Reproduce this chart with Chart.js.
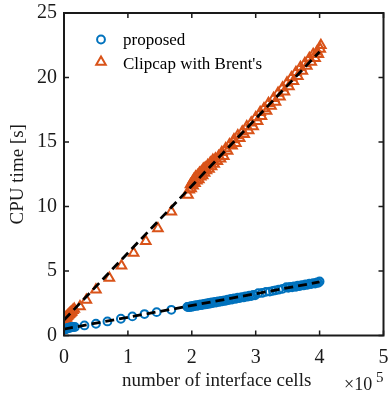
<!DOCTYPE html>
<html>
<head>
<meta charset="UTF-8">
<title>CPU time vs interface cells</title>
<script src="https://cdn.jsdelivr.net/npm/chart.js@4/dist/chart.umd.min.js"></script>
<style>
html, body { margin:0; padding:0; background:#fff; }
canvas { display:block; }
</style>
</head>
<body>
<canvas id="canvas" width="391" height="396" style="width:391px;height:396px;"></canvas>
<script>
// x values are in units of 1e5 interface cells, y is CPU time in seconds
var propX = [0.005,0.01,0.015,0.02,0.03,0.035,0.04,0.05,0.06,0.07,0.08,0.09,0.10,0.12,0.14,
             0.17,0.32,0.50,0.68,0.89,1.07,1.26,1.45,1.68,1.93,
             1.94,1.96,1.97,1.99,2.00,2.02,2.03,2.05,2.07,2.08,2.10,2.12,2.14,2.15,2.17,2.19,
             2.21,2.23,2.25,2.27,2.29,2.31,2.33,2.36,2.38,2.41,2.43,2.46,2.48,2.51,2.53,2.56,
             2.58,2.61,2.63,2.66,2.69,2.72,2.75,2.78,2.81,2.84,2.87,2.90,2.93,2.96,2.99,3.04,
             3.10,3.16,3.22,3.27,3.31,3.36,3.42,3.48,3.51,3.54,3.57,3.60,3.63,3.66,3.69,3.72,
             3.75,3.78,3.81,3.84,3.87,3.90,3.93,3.96,3.98,4.00];
var propY = [0.46,0.50,0.48,0.52,0.53,0.51,0.55,0.56,0.57,0.59,0.60,0.61,0.62,0.64,0.66,
             0.66,0.78,0.91,1.09,1.30,1.48,1.66,1.81,1.99,2.22,
             2.21,2.24,2.20,2.27,2.23,2.30,2.26,2.33,2.29,2.36,2.32,2.39,2.35,2.42,2.38,2.45,
             2.41,2.48,2.44,2.52,2.48,2.56,2.52,2.60,2.56,2.64,2.60,2.69,2.65,2.73,2.69,2.78,
             2.74,2.83,2.79,2.88,2.85,2.93,2.90,2.98,2.95,3.04,3.01,3.09,3.06,3.14,3.12,3.28,
             3.30,3.38,3.40,3.46,3.50,3.55,3.62,3.74,3.70,3.77,3.74,3.81,3.78,3.86,3.83,3.91,
             3.88,3.96,3.93,4.01,3.98,4.06,4.03,4.12,4.09,4.19];

var clipX = [0.005,0.01,0.015,0.02,0.03,0.035,0.04,0.05,0.06,0.07,0.08,0.09,0.10,0.11,0.12,0.14,0.16,
             0.25,0.35,0.50,0.71,0.90,1.09,1.28,1.47,1.68,1.94,
             1.96,1.98,1.99,2.01,2.02,2.03,2.05,2.06,2.08,2.09,2.11,2.12,2.14,2.15,2.17,2.18,
             2.20,2.21,2.23,2.25,2.27,2.29,2.31,2.33,2.35,2.37,2.40,2.42,2.45,2.47,2.50,2.53,
             2.56,2.59,2.63,2.66,2.69,2.72,2.75,2.79,2.82,2.86,2.89,2.93,2.96,3.00,3.03,3.07,
             3.09,3.13,3.17,3.20,3.24,3.28,3.31,3.35,3.38,3.42,3.45,3.49,3.52,3.56,3.59,3.63,
             3.66,3.70,3.73,3.77,3.80,3.84,3.87,3.90,3.93,3.96,3.98,4.01,4.02];
var clipY = [1.20,1.30,1.25,1.35,1.40,1.35,1.45,1.50,1.55,1.60,1.65,1.70,1.75,1.80,1.85,1.95,2.05,
             2.25,2.75,3.55,4.45,5.40,6.40,7.30,8.30,9.60,10.90,
             11.3,11.7,11.4,11.9,11.6,12.1,11.8,12.3,12.0,12.4,12.1,12.6,12.3,12.7,12.4,12.9,
             12.6,13.0,12.8,13.2,12.9,13.4,13.1,13.6,13.3,13.7,13.5,13.9,13.7,14.2,13.9,14.5,
             14.3,14.8,14.7,15.2,14.9,15.5,15.3,15.8,15.6,16.2,15.9,16.5,16.2,16.9,16.6,17.3,
             17.0,17.6,17.4,18.0,17.8,18.4,18.1,18.8,18.5,19.2,18.9,19.6,19.3,20.0,19.7,20.4,
             20.1,20.8,20.5,21.1,20.9,21.5,21.2,21.8,21.5,22.0,21.8,22.2,22.5];

// dashed fit lines (end points)
var fitX = [0, 4];
var propFitY = [0.5, 4.15];
var clipFitY = [1.2, 22.0];

var xTicks = [0, 1, 2, 3, 4, 5];
var yTicks = [0, 5, 10, 15, 20, 25];

var BLUE = '#0072BD';
var ORANGE = '#D95319';
var AXIS = '#1a1a1a';
var SERIF = '"Liberation Serif", "Times New Roman", serif';

function pts(xs, ys) {
    var out = [];
    for (var i = 0; i < xs.length; i++) out.push({x: xs[i], y: ys[i]});
    return out;
}

// box, inward ticks, legend and the x10^5 multiplier
var matlabAxes = {
    id: 'matlabAxes',
    afterDraw: function(chart) {
        var ctx = chart.ctx, a = chart.chartArea;
        var xs = chart.scales.x, ys = chart.scales.y;
        var tl = 5;
        ctx.save();
        ctx.strokeStyle = AXIS;
        ctx.lineWidth = 2;
        ctx.strokeRect(a.left, a.top, a.right - a.left, a.bottom - a.top);
        ctx.lineWidth = 1.5;
        ctx.beginPath();
        xTicks.forEach(function(v) {
            var px = xs.getPixelForValue(v);
            ctx.moveTo(px, a.bottom); ctx.lineTo(px, a.bottom - tl);
            ctx.moveTo(px, a.top); ctx.lineTo(px, a.top + tl);
        });
        yTicks.forEach(function(v) {
            var py = ys.getPixelForValue(v);
            ctx.moveTo(a.left, py); ctx.lineTo(a.left + tl, py);
            ctx.moveTo(a.right, py); ctx.lineTo(a.right - tl, py);
        });
        ctx.stroke();

        // legend
        var items = chart.data.datasets.filter(function(d) { return d.inLegend; });
        ctx.font = '17px ' + SERIF;
        ctx.fillStyle = '#000';
        ctx.textBaseline = 'alphabetic';
        ctx.textAlign = 'left';
        items.forEach(function(d, i) {
            var cy = 39.5 + i * 22.5;
            var cx = 101;
            ctx.strokeStyle = d.borderColor;
            ctx.lineWidth = d.borderWidth;
            ctx.beginPath();
            if (d.pointStyle === 'triangle') {
                var r = d.pointRadius;
                ctx.moveTo(cx, cy - r);
                ctx.lineTo(cx + r * Math.sin(Math.PI * 2 / 3), cy - r * Math.cos(Math.PI * 2 / 3));
                ctx.lineTo(cx + r * Math.sin(Math.PI * 4 / 3), cy - r * Math.cos(Math.PI * 4 / 3));
                ctx.closePath();
            } else {
                ctx.arc(cx, cy, d.pointRadius, 0, Math.PI * 2);
            }
            ctx.stroke();
            ctx.fillText(d.label, 123, cy + 5 + i * 1.5);
        });

        // exponent label
        ctx.fillStyle = AXIS;
        ctx.font = '18px ' + SERIF;
        ctx.fillText('\u00d710', 344, 390);
        ctx.font = '15px ' + SERIF;
        ctx.fillText('5', 376, 381.5);
        ctx.restore();
    }
};

var ctx = document.getElementById('canvas').getContext('2d');
new Chart(ctx, {
    type: 'scatter',
    data: {
        datasets: [
            { label: 'fit proposed', data: pts(fitX, propFitY), showLine: true,
              borderColor: '#000', borderWidth: 2.8, borderDash: [9, 5], pointRadius: 0, order: 0 },
            { label: 'fit clipcap', data: pts(fitX, clipFitY), showLine: true,
              borderColor: '#000', borderWidth: 2.8, borderDash: [9, 5], pointRadius: 0, order: 0 },
            { label: 'proposed', inLegend: true, data: pts(propX, propY), pointStyle: 'circle',
              pointRadius: 3.9, borderWidth: 2, borderColor: BLUE, backgroundColor: 'rgba(0,0,0,0)', order: 1 },
            { label: "Clipcap with Brent's", inLegend: true, data: pts(clipX, clipY), pointStyle: 'triangle',
              pointRadius: 5.5, borderWidth: 2, borderColor: ORANGE, backgroundColor: 'rgba(0,0,0,0)', order: 1 }
        ]
    },
    options: {
        responsive: false,
        animation: false,
        devicePixelRatio: 1,
        layout: { padding: { top: 13, right: 1, left: 0, bottom: 0 } },
        plugins: { legend: { display: false }, tooltip: { enabled: false } },
        scales: {
            x: {
                type: 'linear', min: 0, max: 5,
                grid: { display: false, drawTicks: false },
                border: { display: false },
                afterBuildTicks: function(s) { s.ticks = xTicks.map(function(v) { return {value: v}; }); },
                ticks: { color: AXIS, padding: 10, maxRotation: 0, autoSkip: false,
                         font: { family: SERIF, size: 20 } },
                title: { display: true, text: 'number of interface cells   ', color: AXIS,
                         font: { family: SERIF, size: 19 }, padding: { top: 0, bottom: 4 } },
                afterFit: function(s) { s.height = 60.5; s.paddingLeft = 0; s.paddingRight = 0; }
            },
            y: {
                type: 'linear', min: 0, max: 25,
                grid: { display: false, drawTicks: false },
                border: { display: false },
                afterBuildTicks: function(s) { s.ticks = yTicks.map(function(v) { return {value: v}; }); },
                ticks: { color: AXIS, padding: 7, autoSkip: false,
                         font: { family: SERIF, size: 20 } },
                title: { display: true, text: 'CPU time [s]', color: AXIS,
                         font: { family: SERIF, size: 19 }, padding: { top: 7, bottom: 0 } },
                afterFit: function(s) { s.width = 64; s.paddingTop = 0; s.paddingBottom = 0; }
            }
        }
    },
    plugins: [matlabAxes]
});
</script>
</body>
</html>
